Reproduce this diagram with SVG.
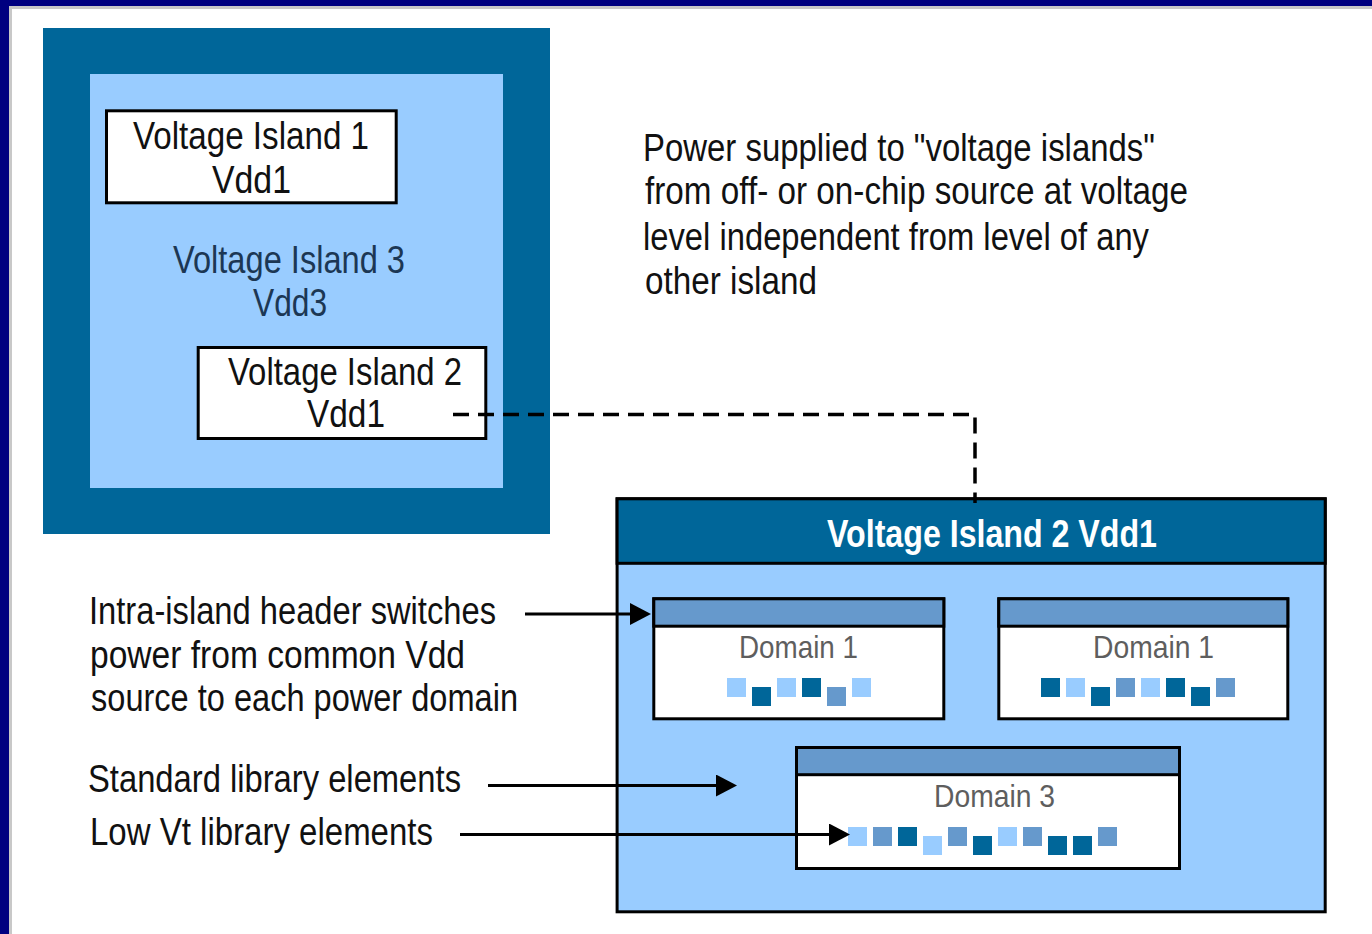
<svg xmlns="http://www.w3.org/2000/svg" width="1372" height="934" viewBox="0 0 1372 934">
<defs>
<style>
.t{font-family:"Liberation Sans Narrow","Liberation Sans",Arial,sans-serif;font-size:38px;fill:#111}
.t3{fill:#1c3754}
.hd{font-family:"Liberation Sans Narrow","Liberation Sans",Arial,sans-serif;font-size:38px;font-weight:bold;fill:#fff}
.dm{font-family:"Liberation Sans Narrow","Liberation Sans",Arial,sans-serif;font-size:32px;fill:#5e5e5e}
.box{fill:#fff;stroke:#000;stroke-width:3}
.bar{fill:#6699cc;stroke:#000;stroke-width:3}
.dk{fill:#006699}
.md{fill:#6699cc}
.lt{fill:#99ccff}
.ln{fill:none;stroke:#000;stroke-width:3}
.dash{fill:none;stroke:#000;stroke-width:3.5;stroke-dasharray:16 9}
</style>
<marker id="arrow" markerUnits="userSpaceOnUse" markerWidth="21" markerHeight="22" viewBox="0 0 21 22" refX="11" refY="11" orient="auto">
<path d="M0,0 L21,11 L0,22 z" fill="#000"/>
</marker>
</defs>
<rect width="1372" height="934" fill="#fff"/>
<g id="frame">
<rect x="0" y="0" width="1372" height="6" fill="#000080"/>
<rect x="0" y="0" width="9" height="934" fill="#000080"/>
<rect x="9" y="6" width="1363" height="3" fill="#c8c8c8"/>
<rect x="9" y="6" width="3" height="928" fill="#c8c8c8"/>
</g>
<g id="chip">
<rect x="43" y="28" width="507" height="506" class="dk"/>
</g>
<g id="voltage-island-3">
<rect x="90" y="74" width="413" height="414" class="lt"/>
<text class="t t3" x="173" y="273" textLength="232" lengthAdjust="spacingAndGlyphs">Voltage Island 3</text>
<text class="t t3" x="253" y="316" textLength="74" lengthAdjust="spacingAndGlyphs">Vdd3</text>
</g>
<g id="voltage-island-1">
<rect x="106.5" y="110.8" width="289.7" height="92" class="box"/>
<text class="t" x="133" y="149" textLength="236" lengthAdjust="spacingAndGlyphs">Voltage Island 1</text>
<text class="t" x="212" y="193" textLength="79" lengthAdjust="spacingAndGlyphs">Vdd1</text>
</g>
<g id="voltage-island-2">
<rect x="198.2" y="347.5" width="287.6" height="91" class="box"/>
<text class="t" x="228" y="385" textLength="234" lengthAdjust="spacingAndGlyphs">Voltage Island 2</text>
<text class="t" x="307" y="427" textLength="78" lengthAdjust="spacingAndGlyphs">Vdd1</text>
</g>
<g id="note">
<text class="t" x="643" y="161" textLength="512" lengthAdjust="spacingAndGlyphs">Power supplied to "voltage islands"</text>
<text class="t" x="645" y="204" textLength="543" lengthAdjust="spacingAndGlyphs">from off- or on-chip source at voltage</text>
<text class="t" x="643" y="250" textLength="506" lengthAdjust="spacingAndGlyphs">level independent from level of any</text>
<text class="t" x="645" y="294" textLength="172" lengthAdjust="spacingAndGlyphs">other island</text>
</g>
<g id="island-2-detail">
<rect x="617.1" y="498.8" width="708.1" height="413" fill="#99ccff" stroke="#000" stroke-width="3"/>
<rect x="617.1" y="498.8" width="708.1" height="64.5" fill="#006699" stroke="#000" stroke-width="3"/>
<text class="hd" x="827" y="547" textLength="330" lengthAdjust="spacingAndGlyphs">Voltage Island 2 Vdd1</text>
</g>
<g id="domain-1-left">
<rect x="653.8" y="598.8" width="290" height="120" class="box"/>
<rect x="653.8" y="598.8" width="290" height="27.4" class="bar"/>
<text class="dm" x="739" y="658" textLength="119" lengthAdjust="spacingAndGlyphs">Domain 1</text>
<rect x="727" y="678" width="19" height="19" class="lt"/>
<rect x="752" y="687" width="19" height="19" class="dk"/>
<rect x="777" y="678" width="19" height="19" class="lt"/>
<rect x="802" y="678" width="19" height="19" class="dk"/>
<rect x="827" y="687" width="19" height="19" class="md"/>
<rect x="852" y="678" width="19" height="19" class="lt"/>
</g>
<g id="domain-1-right">
<rect x="998.8" y="598.8" width="289" height="120" class="box"/>
<rect x="998.8" y="598.8" width="289" height="27.4" class="bar"/>
<text class="dm" x="1093" y="658" textLength="121" lengthAdjust="spacingAndGlyphs">Domain 1</text>
<rect x="1041" y="678" width="19" height="19" class="dk"/>
<rect x="1066" y="678" width="19" height="19" class="lt"/>
<rect x="1091" y="687" width="19" height="19" class="dk"/>
<rect x="1116" y="678" width="19" height="19" class="md"/>
<rect x="1141" y="678" width="19" height="19" class="lt"/>
<rect x="1166" y="678" width="19" height="19" class="dk"/>
<rect x="1191" y="687" width="19" height="19" class="dk"/>
<rect x="1216" y="678" width="19" height="19" class="md"/>
</g>
<g id="domain-3">
<rect x="796.5" y="747.5" width="383" height="121" class="box"/>
<rect x="796.5" y="747.5" width="383" height="27.2" class="bar"/>
<text class="dm" x="934" y="807" textLength="121" lengthAdjust="spacingAndGlyphs">Domain 3</text>
<rect x="848" y="827" width="19" height="19" class="lt"/>
<rect x="873" y="827" width="19" height="19" class="md"/>
<rect x="898" y="827" width="19" height="19" class="dk"/>
<rect x="923" y="836" width="19" height="19" class="lt"/>
<rect x="948" y="827" width="19" height="19" class="md"/>
<rect x="973" y="836" width="19" height="19" class="dk"/>
<rect x="998" y="827" width="19" height="19" class="lt"/>
<rect x="1023" y="827" width="19" height="19" class="md"/>
<rect x="1048" y="836" width="19" height="19" class="dk"/>
<rect x="1073" y="836" width="19" height="19" class="dk"/>
<rect x="1098" y="827" width="19" height="19" class="md"/>
</g>
<g id="label-header-switches">
<text class="t" x="89" y="624" textLength="407" lengthAdjust="spacingAndGlyphs">Intra-island header switches</text>
<text class="t" x="90" y="668" textLength="375" lengthAdjust="spacingAndGlyphs">power from common Vdd</text>
<text class="t" x="91" y="711" textLength="427" lengthAdjust="spacingAndGlyphs">source to each power domain</text>
</g>
<g id="label-standard">
<text class="t" x="88" y="792" textLength="373" lengthAdjust="spacingAndGlyphs">Standard library elements</text>
</g>
<g id="label-low-vt">
<text class="t" x="90" y="845" textLength="343" lengthAdjust="spacingAndGlyphs">Low Vt library elements</text>
</g>
<g id="connectors">
<path class="dash" d="M453,414.5 H975 V503"/>
<path class="ln" d="M525,614 H641" marker-end="url(#arrow)"/>
<path class="ln" d="M488,785.5 H727" marker-end="url(#arrow)"/>
<path class="ln" d="M460,834.5 H840" marker-end="url(#arrow)"/>
</g>
</svg>
